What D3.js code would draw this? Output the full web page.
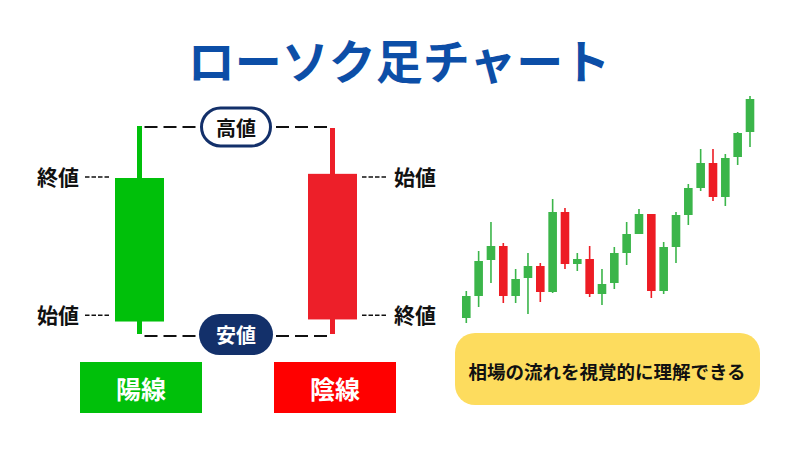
<!DOCTYPE html>
<html>
<head>
<meta charset="utf-8">
<script src="https://cdn.jsdelivr.net/npm/d3@7"></script>
<style>
  body { margin: 0; background: #fff; }
  svg { display: block; font-family: "Noto Sans CJK JP", "Noto Sans", sans-serif; }
</style>
</head>
<body>
<svg id="chart" width="800" height="450"></svg>
<script>
// title and captions
const titleText = 'ローソク足チャート';
const highLabel = '高値';
const lowLabel = '安値';
const openLabel = '始値';
const closeLabel = '終値';
const bullName = '陽線';
const bearName = '陰線';
const noteText = '相場の流れを視覚的に理解できる';

// anatomy candles (left), scale 0..100 = low..high
const anatomyNames = ['bull', 'bear'];
const anatomyOpen = [6, 77];
const anatomyClose = [75, 7];
const anatomyHigh = [100, 99];
const anatomyLow = [0, 0];
// levels where the open/close captions sit
const labelTexts = [closeLabel, openLabel, openLabel, closeLabel];
const labelSides = ['left', 'left', 'right', 'right'];
const labelLevels = [75.5, 9, 75.5, 9];

// sample chart (right)
const barOpen  = [12, 34, 70, 84, 34, 52, 64, 38, 118, 66, 71, 36, 47, 77, 96, 116, 39, 83, 115, 142, 167, 133, 173, 198];
const barHigh  = [39, 79, 108, 87, 61, 77, 67, 131, 122, 77, 84, 61, 83, 108, 121, 116, 88, 118, 146, 181, 181, 176, 198, 234];
const barLow   = [7, 23, 47, 27, 27, 16, 28, 37, 61, 59, 33, 25, 41, 65, 96, 32, 36, 67, 105, 139, 129, 124, 165, 183];
const barClose = [34, 69, 84, 34, 51, 64, 38, 118, 66, 71, 36, 46, 77, 96, 116, 39, 83, 115, 142, 167, 133, 172, 197, 231];

const svg = d3.select('#chart');
const navy = '#13306a';

//title
svg.append('text')
    .attr('x', 399)
    .attr('y', 58)
    .attr('text-anchor', 'middle')
    .attr('dominant-baseline', 'central')
    .attr('font-size', '47px')
    .attr('font-weight', 'bold')
    .attr('fill', '#0c4ea7')
    .text(titleText);

// ---- left: anatomy of a candle ----
const ax = d3.scalePoint().domain(anatomyNames).range([139.5, 332.5]);
const ay = d3.scaleLinear().domain([0, 100]).range([334, 126]);
const anatomyColor = d3.scaleOrdinal().domain(anatomyNames).range(['#00c00a', '#ed1f29']);

const ag = svg.append('g');
anatomyNames.forEach(function (k, i) {
    ag.append('line')
        .attr('x1', ax(k)).attr('x2', ax(k))
        .attr('y1', ay(anatomyHigh[i])).attr('y2', ay(anatomyLow[i]))
        .attr('stroke', anatomyColor(k))
        .attr('stroke-width', 5);
    ag.append('rect')
        .attr('x', ax(k) - 24.5)
        .attr('width', 49)
        .attr('y', ay(Math.max(anatomyOpen[i], anatomyClose[i])))
        .attr('height', ay(Math.min(anatomyOpen[i], anatomyClose[i])) - ay(Math.max(anatomyOpen[i], anatomyClose[i])))
        .attr('fill', anatomyColor(k));
});

// high / low dashed connectors
const midX = (ax('bull') + ax('bear')) / 2;
[127, 336].forEach(function (y) {
    ag.append('line')
        .attr('x1', ax('bull') + 5).attr('x2', midX - 38)
        .attr('y1', y).attr('y2', y)
        .attr('stroke', '#111').attr('stroke-width', 2)
        .attr('stroke-dasharray', '13,6');
    ag.append('line')
        .attr('x1', midX + 40).attr('x2', ax('bear') - 4)
        .attr('y1', y).attr('y2', y)
        .attr('stroke', '#111').attr('stroke-width', 2)
        .attr('stroke-dasharray', '13,6');
});

// pills
ag.append('rect')
    .attr('x', midX - 34.5).attr('y', 108)
    .attr('width', 69).attr('height', 38)
    .attr('rx', 19)
    .attr('fill', '#fff')
    .attr('stroke', navy)
    .attr('stroke-width', 3);
ag.append('text')
    .attr('x', midX).attr('y', 127)
    .attr('text-anchor', 'middle')
    .attr('dominant-baseline', 'central')
    .attr('font-size', '20px').attr('font-weight', 'bold')
    .attr('fill', '#111')
    .text(highLabel);

ag.append('rect')
    .attr('x', midX - 37).attr('y', 314)
    .attr('width', 74).attr('height', 41)
    .attr('rx', 20.5)
    .attr('fill', navy);
ag.append('text')
    .attr('x', midX).attr('y', 334)
    .attr('text-anchor', 'middle')
    .attr('dominant-baseline', 'central')
    .attr('font-size', '20px').attr('font-weight', 'bold')
    .attr('fill', '#fff')
    .text(lowLabel);

// open / close labels
labelTexts.forEach(function (t, i) {
    const left = labelSides[i] === 'left';
    const y = ay(labelLevels[i]);
    ag.append('line')
        .attr('x1', left ? 85 : 362).attr('x2', left ? 110 : 387)
        .attr('y1', y).attr('y2', y)
        .attr('stroke', '#111').attr('stroke-width', 1.5)
        .attr('stroke-dasharray', '4.5,2');
    ag.append('text')
        .attr('x', left ? 79 : 394)
        .attr('y', y - 1)
        .attr('text-anchor', left ? 'end' : 'start')
        .attr('dominant-baseline', 'central')
        .attr('font-size', '21px').attr('font-weight', 'bold')
        .attr('fill', '#111')
        .text(t);
});

// bull / bear name boxes
[[bullName, 80, '#00c00a'], [bearName, 274, '#ff0000']].forEach(function (d) {
    svg.append('rect')
        .attr('x', d[1]).attr('y', 362)
        .attr('width', 122).attr('height', 51)
        .attr('fill', d[2]);
    svg.append('text')
        .attr('x', d[1] + 61).attr('y', 388)
        .attr('text-anchor', 'middle')
        .attr('dominant-baseline', 'central')
        .attr('font-size', '25px').attr('font-weight', 'bold')
        .attr('fill', '#fff')
        .text(d[0]);
});

// ---- right: sample candle chart ----
const idx = d3.range(barOpen.length);
const xScale = d3.scalePoint().domain(idx).range([466.3, 750]);
const yScale = d3.scaleLinear().domain([0, 240]).range([330, 90]);
const upColor = '#3bb54a';
const downColor = '#ed1c24';

const cg = svg.append('g');
cg.selectAll('line.wick')
    .data(idx)
    .join('line')
    .attr('class', 'wick')
    .attr('x1', i => xScale(i)).attr('x2', i => xScale(i))
    .attr('y1', i => yScale(barHigh[i]))
    .attr('y2', i => yScale(barLow[i]))
    .attr('stroke', i => barClose[i] >= barOpen[i] ? upColor : downColor)
    .attr('stroke-width', 1.6);

cg.selectAll('rect.body')
    .data(idx)
    .join('rect')
    .attr('class', 'body')
    .attr('x', i => xScale(i) - 4.3)
    .attr('width', 8.6)
    .attr('y', i => yScale(Math.max(barOpen[i], barClose[i])))
    .attr('height', i => Math.max(1.5, yScale(Math.min(barOpen[i], barClose[i])) - yScale(Math.max(barOpen[i], barClose[i]))))
    .attr('fill', i => barClose[i] >= barOpen[i] ? upColor : downColor);

// note box
svg.append('rect')
    .attr('x', 455).attr('y', 333)
    .attr('width', 305).attr('height', 72)
    .attr('rx', 20)
    .attr('fill', '#fddc5e');
svg.append('text')
    .attr('x', 607).attr('y', 371)
    .attr('text-anchor', 'middle')
    .attr('dominant-baseline', 'central')
    .attr('font-size', '18.5px').attr('font-weight', 'bold')
    .attr('fill', '#111')
    .text(noteText);
</script>
</body>
</html>
